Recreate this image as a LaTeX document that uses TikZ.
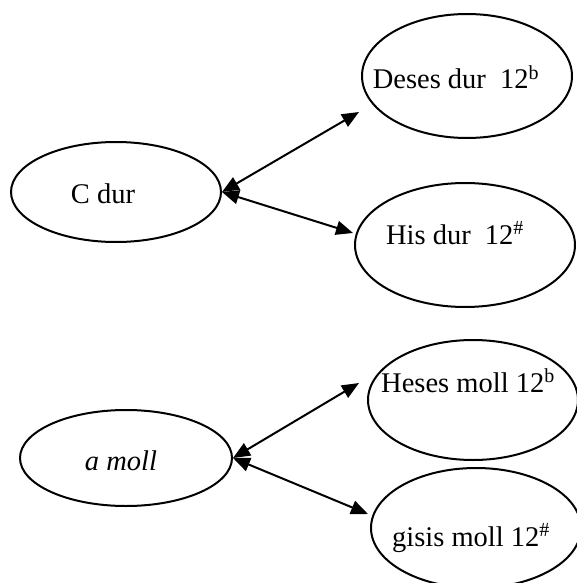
\documentclass[tikz,border=0pt]{standalone}
\usepackage{fontspec}
\setmainfont{Liberation Serif}
\usetikzlibrary{shapes.geometric,arrows.meta}
\begin{document}
\begin{tikzpicture}[x=1pt,y=-1pt,
  ell/.style={draw=black,line width=2pt,ellipse,inner sep=0pt,minimum width=#1},
  lbl/.style={font=\fontsize{28.5}{33}\selectfont,inner sep=0pt,anchor=base},
  dbl/.style={line width=2pt,{Triangle[length=17pt,width=14pt]}-{Triangle[length=17pt,width=14pt]}}]
\useasboundingbox (0,0) rectangle (576,583);
% ellipses
\node[ell=210pt,minimum height=100pt] (cdur) at (116,192) {};
\node[ell=210pt,minimum height=124pt] (deses) at (467,76) {};
\node[ell=220pt,minimum height=124pt] (his) at (465,245) {};
\node[ell=212pt,minimum height=96pt] (amoll) at (126,458) {};
\node[ell=210pt,minimum height=120pt] (heses) at (473,400) {};
\node[ell=210pt,minimum height=120pt] (gisis) at (476,528) {};
% labels
\node[lbl] (tcdur) at (103,203) {C dur};
\node[lbl] (tdeses) at (456,89) {Deses dur\ \ 12\textsuperscript{b}};
\node[lbl] (this) at (455,244) {His dur\ \ 12\textsuperscript{\#}};
\node[lbl] (tamoll) at (121,470) {\itshape a moll};
\node[lbl] (theses) at (468,392) {Heses moll 12\textsuperscript{b}};
\node[lbl] (tgisis) at (471,546) {gisis moll 12\textsuperscript{\#}};
% arrow ends
\coordinate (e1) at (359,112);
\coordinate (e2) at (353,233);
\coordinate (e3) at (359,383);
\coordinate (e4) at (368,514);
\draw[dbl] (cdur.east) -- (e1);
\draw[dbl] (cdur.east) -- (e2);
\draw[dbl] (amoll.east) -- (e3);
\draw[dbl] (amoll.east) -- (e4);
\end{tikzpicture}
\end{document}
